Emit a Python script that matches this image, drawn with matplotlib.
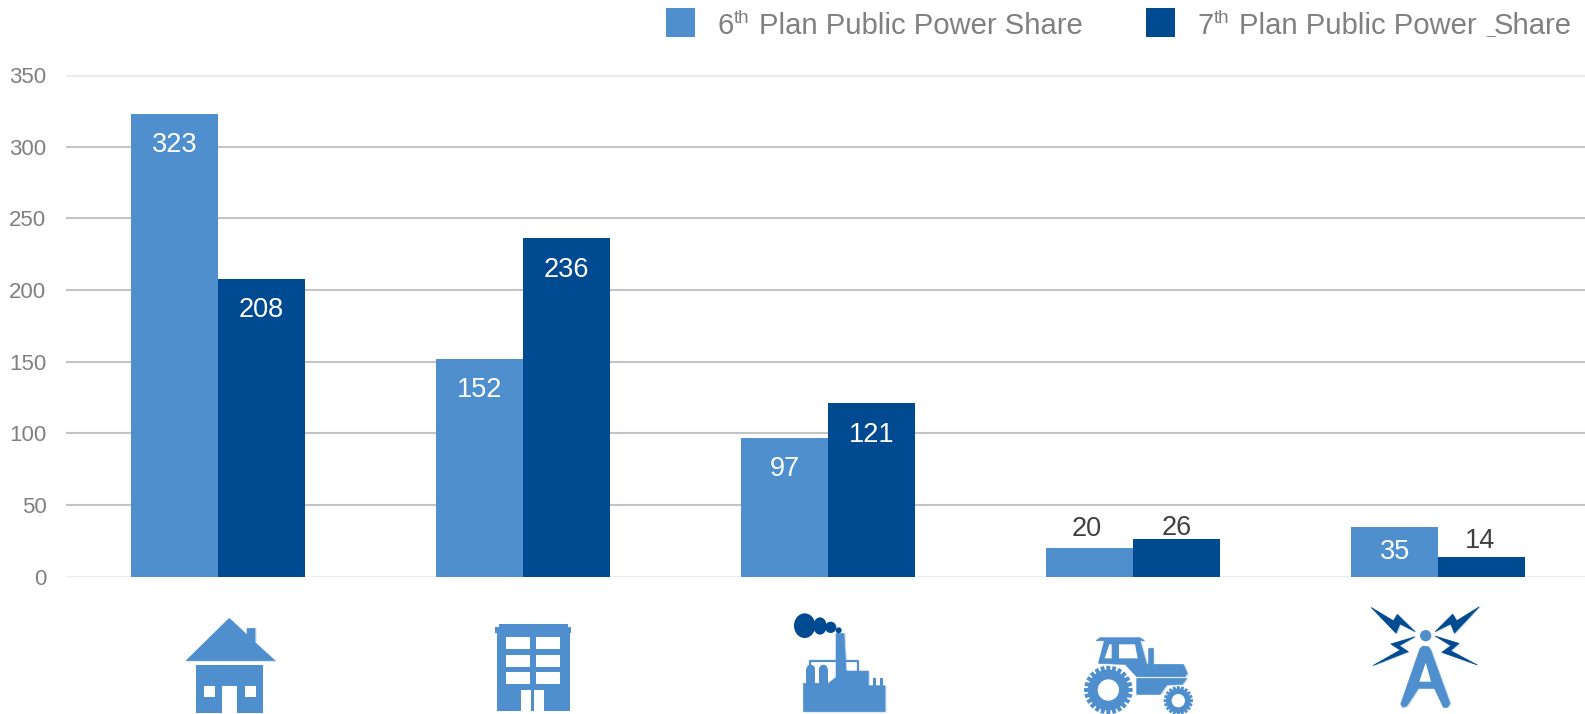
import matplotlib
matplotlib.use("Agg")
import numpy as np
import matplotlib.pyplot as plt
from matplotlib.patches import Polygon, Rectangle, Ellipse, Circle
import matplotlib.patheffects as pe

plt.rcParams['font.family'] = ['Liberation Sans', 'DejaVu Sans']

categories = ["Residential", "Commercial", "Industrial", "Agricultural", "Telecom"]
plan6 = [323, 152, 97, 20, 35]
plan7 = [208, 236, 121, 26, 14]
yticks = [0, 50, 100, 150, 200, 250, 300, 350]
legend_names = [("6", "th", "Plan Public Power Share"), ("7", "th", "Plan Public Power ")]

LIGHT = "#4F8FCD"
DARK = "#004A91"
HALO = "#C3D8EE"
W, H = 1585, 714
BASE, TOP = 576.7, 75

fig = plt.figure(figsize=(W / 100, H / 100), dpi=100, facecolor="white")
ax = fig.add_axes([65.5 / W, 1 - BASE / H, 1 - 65.5 / W, (BASE - TOP) / H])
ax.set_ylim(0, 350)
ax.set_xlim(-0.5, -0.5 + (W - 65.5) / 305.1)
for s in ax.spines.values():
    s.set_visible(False)
ax.set_xticks([])
ax.set_yticks(yticks)
ax.tick_params(axis="y", length=0, pad=13.7, labelsize=16, labelcolor="#808080")
ax.set_axisbelow(True)
for v in yticks:
    light = v in (0, 350)
    ax.axhline(v, color="#EDEDED" if light else "#C4C4C4", lw=2.2 if light else 1.5, zorder=0)

x = np.arange(len(categories))
bw = 87 / 305.1
shadow = [pe.SimplePatchShadow(offset=(0, -1.5), shadow_rgbFace="#000000", alpha=0.22), pe.Normal()]
outside_px = {20: (-3, 19.5), 26: (0, 11.5), 14: (-2, 15.5)}
for vals, off, col in ((plan6, -bw / 2, LIGHT), (plan7, bw / 2, DARK)):
    bars = ax.bar(x + off, vals, width=bw, color=col, zorder=2)
    for b, v in zip(bars, vals):
        b.set_path_effects(shadow)
        h_px = v * (BASE - TOP) / 350
        if h_px >= 40:
            dx, dy = 0, -min(31.5, h_px / 2)
            c = "white"
        else:
            dx, dy = outside_px[v]
            c = "#404040"
        ax.annotate(str(v), (b.get_x() + b.get_width() / 2, v), xytext=(dx * 0.72, dy * 0.72),
                    textcoords="offset points", ha="center", va="center",
                    fontsize=19.5, color=c, zorder=3)

# pixel overlay for legend and icons
ov = fig.add_axes([0, 0, 1, 1], facecolor="none")
ov.set_xlim(0, W)
ov.set_ylim(H, 0)
ov.axis("off")

# legend
tc = "#808080"
for (n, sup, rest), sx, col in zip(legend_names, (666, 1146), (LIGHT, DARK)):
    ov.add_patch(Rectangle((sx, 8), 29, 29, color=col, lw=0))
    ov.text(sx + 51.5, 34, n, fontsize=21, color=tc, va="baseline", ha="left")
    ov.text(sx + 68, 23, sup, fontsize=13.5, color=tc, va="baseline", ha="left")
    ov.text(sx + 93, 34, rest, fontsize=21.1, color=tc, va="baseline", ha="left")
ov.text(1486, 34, "_", fontsize=11, color=tc, va="baseline", ha="left")
ov.text(1494, 34, "Share", fontsize=21.1, color=tc, va="baseline", ha="left")


def poly(pts, c=LIGHT, z=5, halo=True):
    if halo and c != "white":
        shifted = [(a + 1.2, b + 0.5) for a, b in pts]
        ov.add_patch(Polygon(shifted, closed=True, facecolor=HALO, edgecolor=HALO, lw=0.3, zorder=z - 1))
    ov.add_patch(Polygon(pts, closed=True, facecolor=c, edgecolor="none" if c == "white" else c,
                         lw=0 if c == "white" else 0.4, zorder=z))


def rect(x0, y0, x1, y1, c=LIGHT, z=5):
    ov.add_patch(Rectangle((x0, y0), x1 - x0, y1 - y0, facecolor=c, edgecolor="none", zorder=z))


# house
poly([(229.2, 618.3), (247, 635), (247, 628.3), (255, 628.3), (255, 642.6), (275, 660.7), (186, 660.7)])
rect(196.4, 665, 263, 712.5)
rect(203.5, 685.6, 215, 696.6, "white", 6)
rect(244.5, 685.6, 255.7, 696.6, "white", 6)
rect(221.6, 685.6, 237, 712.5, "white", 6)

# office building
rect(497, 630, 570, 710.7)
rect(495, 627, 571, 633)
rect(499, 623.7, 568, 627)
for cx0, cx1 in ((506, 529.6), (536, 559.7)):
    for ry0, ry1 in ((637, 649), (655, 667), (672, 684)):
        rect(cx0, ry0, cx1, ry1, "white", 6)
rect(521, 690, 531, 710.7, "white", 6)
rect(534, 690, 544, 710.7, "white", 6)


# factory
def fz(p):
    return [(760 + a / 3, 590 + b / 3) for a, b in p]


poly(fz([(130, 365), (130, 280), (205, 280), (228, 262), (228, 130), (252, 130), (258, 243), (325, 243),
         (325, 287), (375, 287), (375, 365)]))
for a, b in ((139, 165), (177, 203)):
    (p0,), (p1,) = fz([(a, 238)]), fz([(b, 285)])
    rect(p0[0], p0[1], p1[0], p1[1])
    ov.add_patch(Ellipse(fz([((a + b) / 2, 238)])[0], (b - a) / 3, 28 / 3, color=LIGHT, lw=0, zorder=5))
rect(760 + 339 / 3, 590 + 265 / 3, 760 + 347 / 3, 590 + 290 / 3)
rect(760 + 361 / 3, 590 + 265 / 3, 760 + 369 / 3, 590 + 290 / 3)
ov.plot(*zip(*fz([(150, 225), (150, 213), (293, 213), (293, 243)])), color=LIGHT, lw=1.6, zorder=5)
for cx, cy, rx, ry in ((134, 107, 32, 37), (180, 108, 20, 26), (212, 112, 17, 17), (236, 121, 9, 9)):
    ov.add_patch(Ellipse((760 + cx / 3, 590 + cy / 3), 2 * rx / 3, 2 * ry / 3, color=DARK, lw=0, zorder=5))


# tractor
def tr(p):
    return [(1075 + a / 3, 625 + b / 3) for a, b in p]


poly(tr([(63, 47), (75, 38), (195, 38), (208, 47)]))
poly(tr([(88, 47), (70, 115), (150, 118), (185, 155), (330, 155), (337, 145), (325, 118), (215, 118), (195, 47)]))
poly(tr([(103, 58), (89, 100), (110, 100), (110, 58)]), "white", 6)
poly(tr([(132, 58), (132, 100), (188, 100), (180, 58)]), "white", 6)
poly(tr([(220, 68), (233, 68), (233, 120), (220, 120)]))
poly(tr([(185, 160), (335, 160), (322, 178), (275, 180), (255, 208), (185, 208)]))
for cxz, cyz, ro, ri, nt in ((100, 195, 73, 32, 24), (310, 227, 44, 20, 20)):
    (cx, cy), = tr([(cxz, cyz)])
    ov.add_patch(Circle((cx, cy), ro * 1.05 / 3, color="white", lw=0, zorder=5))
    ov.add_patch(Circle((cx, cy), ro * 0.84 / 3, color=LIGHT, lw=0, zorder=5.5))
    for t in np.linspace(0, 2 * np.pi, nt, endpoint=False):
        dt = np.pi / nt * 0.78
        ov.add_patch(Polygon([
            (cx + ro * 0.8 / 3 * np.cos(t - dt), cy + ro * 0.8 / 3 * np.sin(t - dt)),
            (cx + ro / 3 * np.cos(t - dt * 0.8), cy + ro / 3 * np.sin(t - dt * 0.8)),
            (cx + ro / 3 * np.cos(t + dt * 0.8), cy + ro / 3 * np.sin(t + dt * 0.8)),
            (cx + ro * 0.8 / 3 * np.cos(t + dt), cy + ro * 0.8 / 3 * np.sin(t + dt))],
            closed=True, facecolor=LIGHT, edgecolor="none", zorder=5.5))
    ov.add_patch(Circle((cx, cy), ri / 3, color="white", lw=0, zorder=6))


# tower
def tw(p):
    return [(1360 + a / 3, 600 + b / 3) for a, b in p]


ov.add_patch(Circle(tw([(197, 107)])[0], 17 / 3, color=LIGHT, lw=0, zorder=5))
poly(tw([(180, 145), (190, 138), (205, 140), (212, 150), (270, 310), (262, 322), (250, 322), (223, 265),
         (175, 265), (140, 318), (128, 322), (122, 312)]))
poly(tw([(197, 188), (213, 245), (178, 245)]), "white", 6)
poly(tw([(33, 22), (100, 62), (112, 43), (165, 95), (120, 72), (108, 100)]), DARK)
poly(tw([(358, 20), (290, 62), (278, 42), (225, 95), (272, 72), (283, 100)]), DARK)
poly(tw([(165, 110), (92, 132), (120, 150), (38, 197), (145, 155), (118, 137)]), DARK)
poly(tw([(225, 108), (297, 130), (272, 152), (352, 195), (245, 157), (272, 137)]), DARK)

fig.savefig("out.png", dpi=100, facecolor="white")
